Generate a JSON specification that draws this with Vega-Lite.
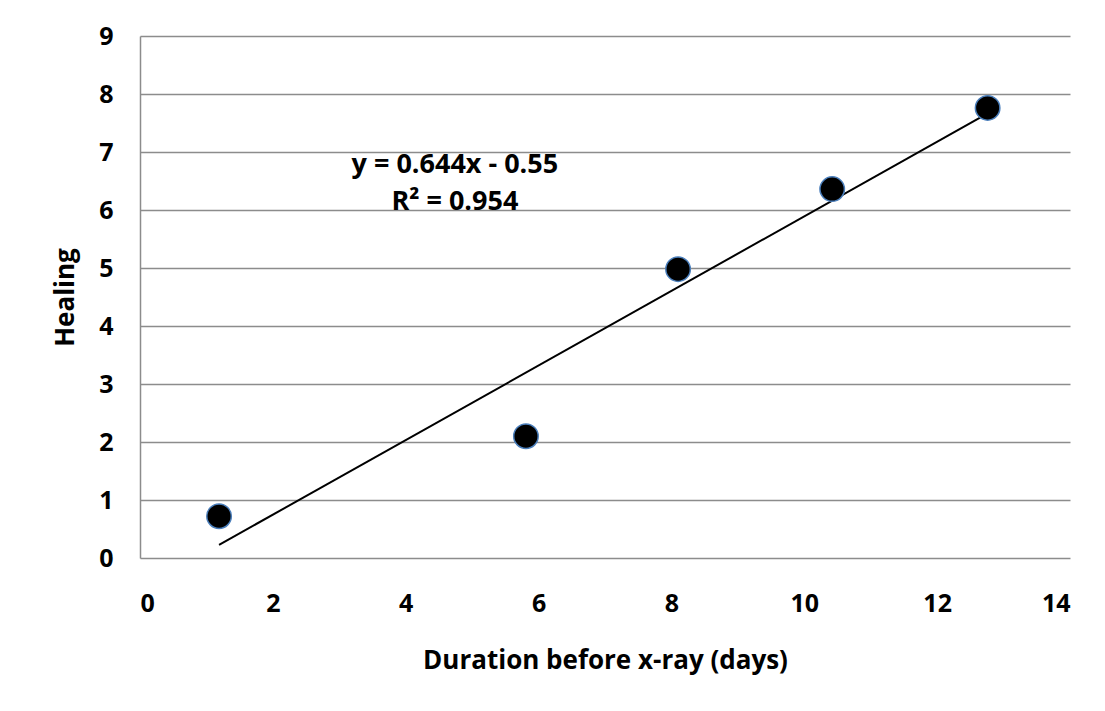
{
  "$schema": "https://vega.github.io/schema/vega-lite/v6.json",
  "width": 930,
  "height": 522,
  "autosize": {"type": "none"},
  "padding": {"left": 140, "top": 36, "right": 35, "bottom": 153},
  "background": "white",
  "config": {
    "view": {"stroke": null},
    "font": "Open Sans"
  },
  "datasets": {
    "points": [
      {"duration": 1.19, "healing": 0.72},
      {"duration": 5.81, "healing": 2.1},
      {"duration": 8.1, "healing": 4.98},
      {"duration": 10.42, "healing": 6.36},
      {"duration": 12.76, "healing": 7.76}
    ],
    "labels": [
      {"duration": 4.74, "healing": 6.78, "text": "y = 0.644x - 0.55"},
      {"duration": 4.74, "healing": 6.13, "text": "R² = 0.954"}
    ]
  },
  "layer": [
    {
      "data": {"name": "points"},
      "transform": [{"regression": "healing", "on": "duration"}],
      "mark": {"type": "line", "color": "black", "strokeWidth": 2},
      "encoding": {
        "x": {
          "field": "duration", "type": "quantitative",
          "scale": {"domain": [0, 14], "nice": false},
          "axis": {
            "title": "Duration before x-ray (days)",
            "values": [0, 2, 4, 6, 8, 10, 12, 14],
            "format": "d",
            "grid": false, "domain": false, "ticks": false,
            "labelFont": "Open Sans", "labelFontWeight": "bold", "labelFontSize": 25, "labelColor": "black",
            "labelPadding": 33,
            "titleFont": "Open Sans", "titleFontWeight": "bold", "titleFontSize": 26, "titleColor": "black",
            "titlePadding": 31
          }
        },
        "y": {
          "field": "healing", "type": "quantitative",
          "scale": {"domain": [0, 9], "nice": false},
          "axis": {
            "title": "Healing",
            "values": [0, 1, 2, 3, 4, 5, 6, 7, 8, 9],
            "format": "d",
            "grid": true, "gridColor": "#8c8c8c", "gridWidth": 1.5,
            "domain": true, "domainColor": "#8c8c8c", "domainWidth": 1.5,
            "ticks": false,
            "labelFont": "Open Sans", "labelFontWeight": "bold", "labelFontSize": 25, "labelColor": "black",
            "labelPadding": 27,
            "titleFont": "Open Sans", "titleFontWeight": "bold", "titleFontSize": 26, "titleColor": "black",
            "titlePadding": 20
          }
        }
      }
    },
    {
      "data": {"name": "points"},
      "mark": {"type": "point", "filled": true, "shape": "circle", "size": 600, "color": "black", "stroke": "#4a7ebb", "strokeWidth": 1.5, "opacity": 1},
      "encoding": {
        "x": {"field": "duration", "type": "quantitative"},
        "y": {"field": "healing", "type": "quantitative"}
      }
    },
    {
      "data": {"name": "labels"},
      "mark": {"type": "text", "font": "Open Sans", "fontWeight": "bold", "fontSize": 27, "color": "black", "align": "center", "baseline": "middle"},
      "encoding": {
        "x": {"field": "duration", "type": "quantitative"},
        "y": {"field": "healing", "type": "quantitative"},
        "text": {"field": "text"}
      }
    }
  ]
}
